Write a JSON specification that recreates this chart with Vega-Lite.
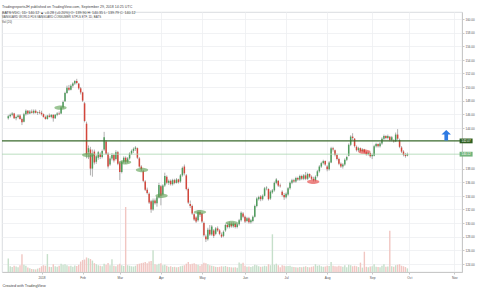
{
  "$schema": "https://vega.github.io/schema/vega-lite/v6.json",
  "width": 460,
  "height": 260,
  "autosize": {"type": "none"},
  "padding": {"left": 2, "top": 12, "right": 18, "bottom": 19},
  "background": "white",
  "config": {
    "font": "Liberation Sans",
    "view": {"stroke": "#cfd3d8", "strokeWidth": 0.8},
    "axis": {"labelOverlap": false, "labelFlush": false, "labelBound": false}
  },
  "title": {
    "text": ["TradingreportsJH published on TradingView.com, September 29, 2018 14:25 UTC", "BATS:VDC, 1D: 140.12 ▲ +0.28 (+0.20%) O: 139.90 H: 140.35 L: 139.79 C: 140.12"],
    "subtitle": ["VANGUARD WORLD FDS VANGUARD CONSUMER STPLS ETF, 1D, BATS", "Vol (20)"],
    "anchor": "start",
    "frame": "group",
    "offset": -12,
    "fontSize": 3.6,
    "fontWeight": "normal",
    "color": "#444444",
    "lineHeight": 6,
    "subtitleFontSize": 2.9,
    "subtitleColor": "#444444",
    "subtitleLineHeight": 5.5,
    "subtitlePadding": 1.5
  },
  "datasets": {
    "bars": [
      {"i":-17,"open":145.4,"high":145.9,"low":145.2,"close":145.7,"volume":260},
      {"i":-16,"open":145.7,"high":146.1,"low":145.5,"close":145.9,"volume":110},
      {"i":-15,"open":145.9,"high":146.3,"low":145.7,"close":146.1,"volume":95},
      {"i":-14,"open":146.1,"high":146.2,"low":145.3,"close":145.4,"volume":120},
      {"i":-13,"open":145.4,"high":145.8,"low":145.1,"close":145.6,"volume":105},
      {"i":-12,"open":145.6,"high":146.0,"low":145.4,"close":145.8,"volume":90},
      {"i":-11,"open":145.8,"high":146.0,"low":145.2,"close":145.3,"volume":130},
      {"i":-10,"open":145.3,"high":145.5,"low":144.4,"close":144.8,"volume":340},
      {"i":-9,"open":144.9,"high":146.2,"low":144.8,"close":146.0,"volume":140},
      {"i":-8,"open":146.0,"high":146.7,"low":145.8,"close":146.5,"volume":120},
      {"i":-7,"open":146.5,"high":146.6,"low":145.9,"close":146.1,"volume":85},
      {"i":-6,"open":146.1,"high":146.6,"low":146.0,"close":146.4,"volume":70},
      {"i":-5,"open":146.4,"high":146.7,"low":146.1,"close":146.2,"volume":60},
      {"i":-4,"open":146.2,"high":146.7,"low":146.0,"close":146.5,"volume":55},
      {"i":-3,"open":146.5,"high":146.7,"low":146.1,"close":146.2,"volume":50},
      {"i":-2,"open":146.2,"high":146.4,"low":145.9,"close":146.3,"volume":65},
      {"i":-1,"open":146.3,"high":146.6,"low":146.0,"close":146.2,"volume":80},
      {"i":0,"open":146.2,"high":146.5,"low":145.8,"close":146.0,"volume":110},
      {"i":1,"open":146.0,"high":146.1,"low":145.5,"close":145.6,"volume":130},
      {"i":2,"open":145.6,"high":145.8,"low":145.2,"close":145.3,"volume":120},
      {"i":3,"open":145.3,"high":145.9,"low":145.2,"close":145.8,"volume":345},
      {"i":4,"open":145.8,"high":146.1,"low":145.5,"close":145.6,"volume":100},
      {"i":5,"open":145.6,"high":146.0,"low":145.4,"close":145.9,"volume":95},
      {"i":6,"open":145.9,"high":146.0,"low":144.9,"close":145.4,"volume":150},
      {"i":7,"open":145.4,"high":146.0,"low":145.3,"close":145.9,"volume":110},
      {"i":8,"open":145.9,"high":146.3,"low":145.7,"close":146.1,"volume":100},
      {"i":9,"open":146.1,"high":146.4,"low":145.9,"close":146.0,"volume":120},
      {"i":10,"open":146.1,"high":147.2,"low":146.0,"close":147.0,"volume":160},
      {"i":11,"open":147.0,"high":148.0,"low":146.8,"close":147.8,"volume":140},
      {"i":12,"open":147.9,"high":149.3,"low":147.8,"close":149.1,"volume":150},
      {"i":13,"open":149.1,"high":150.2,"low":149.0,"close":149.9,"volume":130},
      {"i":14,"open":149.9,"high":150.3,"low":149.4,"close":149.6,"volume":110},
      {"i":15,"open":149.6,"high":150.4,"low":149.5,"close":150.2,"volume":120},
      {"i":16,"open":150.2,"high":150.7,"low":149.9,"close":150.5,"volume":100},
      {"i":17,"open":150.5,"high":151.0,"low":150.3,"close":150.9,"volume":125},
      {"i":18,"open":150.9,"high":151.2,"low":150.4,"close":150.6,"volume":115},
      {"i":19,"open":150.5,"high":150.6,"low":149.6,"close":149.8,"volume":140},
      {"i":20,"open":149.8,"high":150.0,"low":148.9,"close":149.2,"volume":200},
      {"i":21,"open":149.2,"high":149.3,"low":147.8,"close":148.0,"volume":230},
      {"i":22,"open":147.6,"high":147.8,"low":144.8,"close":145.0,"volume":240},
      {"i":23,"open":144.6,"high":144.9,"low":139.5,"close":140.0,"volume":280},
      {"i":24,"open":140.4,"high":141.4,"low":139.4,"close":141.0,"volume":265},
      {"i":25,"open":140.8,"high":141.2,"low":137.0,"close":138.0,"volume":250},
      {"i":26,"open":138.0,"high":140.8,"low":136.8,"close":140.2,"volume":220},
      {"i":27,"open":140.5,"high":140.8,"low":138.6,"close":138.9,"volume":170},
      {"i":28,"open":139.0,"high":140.0,"low":138.7,"close":139.8,"volume":150},
      {"i":29,"open":139.6,"high":140.6,"low":139.3,"close":140.4,"volume":130},
      {"i":30,"open":140.2,"high":140.4,"low":139.4,"close":139.7,"volume":120},
      {"i":31,"open":139.7,"high":140.8,"low":139.5,"close":140.6,"volume":110},
      {"i":32,"open":140.8,"high":143.4,"low":140.6,"close":142.6,"volume":160},
      {"i":33,"open":142.0,"high":142.2,"low":140.0,"close":140.2,"volume":140},
      {"i":34,"open":140.2,"high":140.4,"low":138.0,"close":138.3,"volume":175},
      {"i":35,"open":138.6,"high":139.8,"low":138.4,"close":139.5,"volume":130},
      {"i":36,"open":139.5,"high":140.3,"low":139.2,"close":140.0,"volume":245},
      {"i":37,"open":140.0,"high":140.2,"low":138.9,"close":139.2,"volume":120},
      {"i":38,"open":139.4,"high":140.7,"low":139.2,"close":140.4,"volume":110},
      {"i":39,"open":140.4,"high":140.6,"low":138.5,"close":138.7,"volume":140},
      {"i":40,"open":138.8,"high":139.0,"low":136.3,"close":137.5,"volume":160},
      {"i":41,"open":137.5,"high":139.2,"low":137.3,"close":139.0,"volume":130},
      {"i":42,"open":139.0,"high":139.8,"low":138.8,"close":139.6,"volume":115},
      {"i":43,"open":139.6,"high":139.8,"low":138.7,"close":139.0,"volume":1250},
      {"i":44,"open":139.0,"high":139.7,"low":138.8,"close":139.5,"volume":130},
      {"i":45,"open":139.5,"high":140.4,"low":139.3,"close":140.2,"volume":120},
      {"i":46,"open":140.2,"high":140.8,"low":140.0,"close":140.6,"volume":110},
      {"i":47,"open":140.6,"high":141.1,"low":140.3,"close":140.9,"volume":105},
      {"i":48,"open":140.9,"high":141.3,"low":140.6,"close":141.1,"volume":120},
      {"i":49,"open":141.0,"high":141.1,"low":139.4,"close":139.6,"volume":150},
      {"i":50,"open":139.5,"high":139.7,"low":138.1,"close":138.3,"volume":160},
      {"i":51,"open":138.3,"high":138.5,"low":137.6,"close":137.9,"volume":170},
      {"i":52,"open":137.6,"high":137.8,"low":136.0,"close":136.2,"volume":180},
      {"i":53,"open":136.1,"high":136.3,"low":134.7,"close":134.9,"volume":190},
      {"i":54,"open":134.9,"high":135.2,"low":134.2,"close":134.4,"volume":170},
      {"i":55,"open":134.3,"high":134.5,"low":132.8,"close":133.0,"volume":200},
      {"i":56,"open":133.2,"high":133.4,"low":131.5,"close":132.0,"volume":210},
      {"i":57,"open":132.0,"high":133.6,"low":131.8,"close":133.3,"volume":420},
      {"i":58,"open":133.3,"high":133.6,"low":132.7,"close":132.9,"volume":150},
      {"i":59,"open":132.9,"high":134.0,"low":132.4,"close":133.8,"volume":140},
      {"i":60,"open":133.8,"high":135.9,"low":133.6,"close":135.6,"volume":160},
      {"i":61,"open":135.4,"high":135.6,"low":132.6,"close":134.0,"volume":170},
      {"i":62,"open":134.2,"high":135.7,"low":134.0,"close":135.5,"volume":130},
      {"i":63,"open":135.5,"high":137.4,"low":135.3,"close":136.9,"volume":140},
      {"i":64,"open":136.8,"high":137.0,"low":135.7,"close":135.9,"volume":120},
      {"i":65,"open":135.9,"high":136.4,"low":135.6,"close":136.2,"volume":100},
      {"i":66,"open":136.2,"high":136.4,"low":135.5,"close":135.7,"volume":110},
      {"i":67,"open":135.7,"high":136.5,"low":135.5,"close":136.3,"volume":95},
      {"i":68,"open":136.3,"high":136.5,"low":135.7,"close":135.9,"volume":100},
      {"i":69,"open":135.9,"high":136.6,"low":135.8,"close":136.4,"volume":90},
      {"i":70,"open":136.4,"high":136.5,"low":135.8,"close":136.0,"volume":95},
      {"i":71,"open":136.1,"high":137.2,"low":135.9,"close":137.0,"volume":110},
      {"i":72,"open":137.0,"high":138.3,"low":136.8,"close":138.1,"volume":120},
      {"i":73,"open":138.3,"high":138.6,"low":137.0,"close":137.3,"volume":130},
      {"i":74,"open":137.0,"high":137.2,"low":134.8,"close":135.0,"volume":160},
      {"i":75,"open":135.0,"high":135.2,"low":132.8,"close":133.0,"volume":190},
      {"i":76,"open":132.8,"high":133.3,"low":132.2,"close":132.5,"volume":150},
      {"i":77,"open":132.5,"high":132.7,"low":131.2,"close":131.4,"volume":160},
      {"i":78,"open":131.3,"high":131.5,"low":130.3,"close":130.5,"volume":170},
      {"i":79,"open":130.8,"high":131.0,"low":130.0,"close":130.2,"volume":150},
      {"i":80,"open":130.4,"high":131.9,"low":130.2,"close":131.6,"volume":140},
      {"i":81,"open":131.6,"high":131.9,"low":130.9,"close":131.2,"volume":120},
      {"i":82,"open":131.4,"high":131.5,"low":130.0,"close":130.2,"volume":150},
      {"i":83,"open":130.0,"high":130.2,"low":128.0,"close":128.2,"volume":180},
      {"i":84,"open":128.0,"high":128.3,"low":127.2,"close":127.6,"volume":170},
      {"i":85,"open":127.6,"high":129.3,"low":127.4,"close":129.0,"volume":150},
      {"i":86,"open":129.0,"high":129.7,"low":128.1,"close":128.3,"volume":130},
      {"i":87,"open":128.3,"high":129.7,"low":128.1,"close":129.5,"volume":120},
      {"i":88,"open":128.9,"high":129.1,"low":127.8,"close":128.1,"volume":110},
      {"i":89,"open":128.4,"high":129.4,"low":128.2,"close":129.2,"volume":100},
      {"i":90,"open":129.2,"high":129.5,"low":128.7,"close":128.9,"volume":95},
      {"i":91,"open":128.9,"high":129.1,"low":128.2,"close":128.4,"volume":100},
      {"i":92,"open":128.3,"high":128.6,"low":127.8,"close":128.0,"volume":110},
      {"i":93,"open":128.1,"high":128.9,"low":127.9,"close":128.7,"volume":105},
      {"i":94,"open":128.9,"high":129.9,"low":128.7,"close":129.7,"volume":115},
      {"i":95,"open":129.7,"high":130.0,"low":129.2,"close":129.4,"volume":100},
      {"i":96,"open":129.4,"high":130.2,"low":129.2,"close":129.9,"volume":95},
      {"i":97,"open":129.9,"high":130.1,"low":129.3,"close":129.5,"volume":90},
      {"i":98,"open":129.5,"high":130.1,"low":129.3,"close":129.9,"volume":85},
      {"i":99,"open":129.9,"high":130.0,"low":129.2,"close":129.4,"volume":90},
      {"i":100,"open":129.4,"high":130.0,"low":129.2,"close":129.8,"volume":80},
      {"i":101,"open":129.8,"high":130.6,"low":129.6,"close":130.4,"volume":185},
      {"i":102,"open":130.4,"high":131.7,"low":130.2,"close":131.5,"volume":160},
      {"i":103,"open":131.4,"high":131.6,"low":130.7,"close":130.9,"volume":180},
      {"i":104,"open":130.9,"high":131.1,"low":130.0,"close":130.2,"volume":120},
      {"i":105,"open":130.3,"high":130.9,"low":130.1,"close":130.7,"volume":100},
      {"i":106,"open":130.7,"high":130.9,"low":129.9,"close":130.1,"volume":105},
      {"i":107,"open":130.1,"high":130.6,"low":129.9,"close":130.4,"volume":95},
      {"i":108,"open":130.3,"high":131.1,"low":130.1,"close":130.9,"volume":110},
      {"i":109,"open":130.9,"high":132.7,"low":130.8,"close":132.5,"volume":140},
      {"i":110,"open":132.5,"high":133.8,"low":132.3,"close":133.6,"volume":130},
      {"i":111,"open":133.5,"high":134.0,"low":133.3,"close":133.8,"volume":110},
      {"i":112,"open":133.9,"high":134.1,"low":133.2,"close":133.5,"volume":100},
      {"i":113,"open":133.5,"high":134.2,"low":133.3,"close":134.0,"volume":105},
      {"i":114,"open":134.0,"high":135.3,"low":133.9,"close":135.1,"volume":120},
      {"i":115,"open":135.1,"high":135.4,"low":134.8,"close":135.2,"volume":110},
      {"i":116,"open":135.0,"high":135.1,"low":133.3,"close":133.5,"volume":150},
      {"i":117,"open":133.6,"high":134.8,"low":133.4,"close":134.6,"volume":130},
      {"i":118,"open":134.5,"high":135.0,"low":134.3,"close":134.8,"volume":725},
      {"i":119,"open":134.8,"high":136.1,"low":134.6,"close":135.9,"volume":140},
      {"i":120,"open":135.9,"high":136.6,"low":135.7,"close":136.4,"volume":160},
      {"i":121,"open":136.2,"high":136.3,"low":135.3,"close":135.5,"volume":130},
      {"i":122,"open":135.5,"high":135.8,"low":135.2,"close":135.4,"volume":90},
      {"i":123,"open":134.6,"high":134.8,"low":133.9,"close":134.1,"volume":130},
      {"i":124,"open":134.1,"high":134.4,"low":133.4,"close":133.8,"volume":120},
      {"i":125,"open":133.8,"high":134.5,"low":133.6,"close":134.3,"volume":110},
      {"i":126,"open":134.2,"high":135.3,"low":134.0,"close":135.1,"volume":115},
      {"i":127,"open":135.1,"high":136.1,"low":134.9,"close":135.9,"volume":120},
      {"i":128,"open":135.9,"high":136.5,"low":135.7,"close":136.3,"volume":100},
      {"i":129,"open":136.3,"high":136.5,"low":135.9,"close":136.1,"volume":95},
      {"i":130,"open":136.1,"high":136.8,"low":135.9,"close":136.6,"volume":90},
      {"i":131,"open":136.6,"high":136.8,"low":136.2,"close":136.4,"volume":85},
      {"i":132,"open":136.4,"high":137.1,"low":136.2,"close":136.9,"volume":95},
      {"i":133,"open":136.9,"high":137.1,"low":136.3,"close":136.5,"volume":90},
      {"i":134,"open":136.5,"high":137.2,"low":136.3,"close":137.0,"volume":100},
      {"i":135,"open":137.0,"high":137.5,"low":136.3,"close":136.5,"volume":110},
      {"i":136,"open":136.5,"high":137.4,"low":136.3,"close":137.2,"volume":95},
      {"i":137,"open":137.2,"high":137.3,"low":136.6,"close":136.8,"volume":90},
      {"i":138,"open":136.8,"high":137.0,"low":136.3,"close":136.5,"volume":100},
      {"i":139,"open":136.5,"high":136.8,"low":136.1,"close":136.3,"volume":110},
      {"i":140,"open":136.3,"high":137.0,"low":136.1,"close":136.8,"volume":150},
      {"i":141,"open":136.9,"high":137.8,"low":136.7,"close":137.6,"volume":120},
      {"i":142,"open":137.6,"high":138.5,"low":137.4,"close":138.3,"volume":130},
      {"i":143,"open":138.3,"high":139.0,"low":138.1,"close":138.8,"volume":110},
      {"i":144,"open":138.8,"high":139.3,"low":138.6,"close":139.1,"volume":100},
      {"i":145,"open":139.1,"high":139.2,"low":138.4,"close":138.6,"volume":105},
      {"i":146,"open":138.3,"high":138.5,"low":137.6,"close":137.9,"volume":120},
      {"i":147,"open":137.9,"high":139.1,"low":137.7,"close":138.9,"volume":115},
      {"i":148,"open":138.9,"high":141.2,"low":138.8,"close":141.0,"volume":190},
      {"i":149,"open":141.0,"high":141.2,"low":140.5,"close":140.8,"volume":120},
      {"i":150,"open":140.7,"high":140.8,"low":139.8,"close":140.0,"volume":110},
      {"i":151,"open":140.0,"high":140.2,"low":139.2,"close":139.4,"volume":105},
      {"i":152,"open":139.4,"high":139.6,"low":138.5,"close":138.7,"volume":120},
      {"i":153,"open":138.7,"high":138.9,"low":138.1,"close":138.3,"volume":110},
      {"i":154,"open":138.3,"high":138.8,"low":138.0,"close":138.6,"volume":100},
      {"i":155,"open":138.6,"high":139.5,"low":138.4,"close":139.3,"volume":130},
      {"i":156,"open":139.3,"high":139.9,"low":139.1,"close":139.7,"volume":90},
      {"i":157,"open":139.9,"high":141.7,"low":139.8,"close":141.5,"volume":140},
      {"i":158,"open":141.5,"high":142.9,"low":141.3,"close":142.7,"volume":130},
      {"i":159,"open":142.7,"high":143.2,"low":142.2,"close":142.5,"volume":110},
      {"i":160,"open":142.4,"high":142.5,"low":141.1,"close":141.3,"volume":120},
      {"i":161,"open":141.2,"high":141.4,"low":140.5,"close":140.7,"volume":110},
      {"i":162,"open":140.7,"high":141.2,"low":140.5,"close":141.0,"volume":95},
      {"i":163,"open":141.0,"high":141.1,"low":140.4,"close":140.6,"volume":180},
      {"i":164,"open":140.6,"high":141.0,"low":140.4,"close":140.8,"volume":85},
      {"i":165,"open":140.8,"high":140.9,"low":140.2,"close":140.4,"volume":390},
      {"i":166,"open":140.4,"high":140.6,"low":139.9,"close":140.1,"volume":100},
      {"i":167,"open":140.1,"high":140.5,"low":139.9,"close":140.3,"volume":90},
      {"i":168,"open":140.3,"high":140.4,"low":139.6,"close":139.8,"volume":105},
      {"i":169,"open":139.8,"high":140.2,"low":139.4,"close":140.0,"volume":110},
      {"i":170,"open":139.9,"high":141.5,"low":139.8,"close":141.3,"volume":150},
      {"i":171,"open":141.3,"high":141.8,"low":141.1,"close":141.6,"volume":100},
      {"i":172,"open":141.6,"high":141.7,"low":141.1,"close":141.3,"volume":95},
      {"i":173,"open":141.3,"high":141.9,"low":141.1,"close":141.7,"volume":90},
      {"i":174,"open":141.7,"high":142.6,"low":141.5,"close":142.4,"volume":120},
      {"i":175,"open":142.4,"high":143.0,"low":142.2,"close":142.8,"volume":150},
      {"i":176,"open":142.8,"high":142.9,"low":142.3,"close":142.5,"volume":100},
      {"i":177,"open":142.5,"high":143.0,"low":142.3,"close":142.8,"volume":105},
      {"i":178,"open":142.7,"high":142.8,"low":142.0,"close":142.2,"volume":795},
      {"i":179,"open":142.2,"high":142.8,"low":142.0,"close":142.6,"volume":110},
      {"i":180,"open":142.1,"high":142.3,"low":141.8,"close":142.0,"volume":100},
      {"i":181,"open":142.0,"high":143.3,"low":141.9,"close":143.0,"volume":130},
      {"i":182,"open":143.0,"high":143.8,"low":142.2,"close":142.4,"volume":140},
      {"i":183,"open":142.2,"high":142.4,"low":141.0,"close":141.2,"volume":150},
      {"i":184,"open":141.1,"high":141.3,"low":140.3,"close":140.5,"volume":120},
      {"i":185,"open":140.5,"high":140.7,"low":139.8,"close":140.0,"volume":110},
      {"i":186,"open":140.0,"high":140.3,"low":139.6,"close":139.84,"volume":95},
      {"i":187,"open":139.9,"high":140.35,"low":139.79,"close":140.12,"volume":70}
    ],
    "notes": [
      {"i":9.7,"price":146.96,"kind":"green"},
      {"i":23.85,"price":140.0,"kind":"green"},
      {"i":42.7,"price":138.93,"kind":"green"},
      {"i":51.35,"price":137.8,"kind":"green"},
      {"i":61.35,"price":134.0,"kind":"green"},
      {"i":81,"price":131.6,"kind":"green"},
      {"i":97.2,"price":130.0,"kind":"green"},
      {"i":138.85,"price":136.07,"kind":"red"},
      {"i":165,"price":140.49,"kind":"red"}
    ]
  },
  "layer": [
    {
      "data": {"name": "bars"},
      "mark": {"type": "bar", "size": 1.4},
      "encoding": {
        "x": {"field": "i", "type": "quantitative", "scale": {"domain": [-17.65, 212.35], "nice": false, "zero": false}},
        "y": {"field": "volume", "type": "quantitative", "scale": {"domain": [0, 5000], "nice": false}, "axis": null},
        "color": {"condition": {"test": "datum.close >= datum.open", "value": "#c6dfca"}, "value": "#f1c6c2"}
      }
    },
    {
      "layer": [
        {
          "data": {"name": "bars"},
          "mark": {"type": "rule", "strokeWidth": 0.7, "color": "#8f8f8f"},
          "encoding": {
            "x": {
              "field": "i", "type": "quantitative",
              "scale": {"domain": [-17.65, 212.35], "nice": false, "zero": false},
              "axis": {
                "values": [0, 21, 40, 61, 82, 104, 125, 146, 169, 188, 211],
                "tickCount": 30,
                "labelExpr": "['2018','Feb','Mar','Apr','May','Jun','Jul','Aug','Sep','Oct','Nov'][indexof([0,21,40,61,82,104,125,146,169,188,211], datum.value)]",
                "labelFontSize": 3.2, "labelColor": "#555555", "labelPadding": 1,
                "labelOverlap": false,
                "tickSize": 2, "tickColor": "#c8c8c8", "domainColor": "#c8c8c8",
                "grid": true, "gridColor": "#eeeff1", "gridWidth": 0.8,
                "title": "Created with TradingView", "titleAnchor": "start",
                "titleFontSize": 3.8, "titleFontWeight": "normal", "titleColor": "#444444",
                "titlePadding": 5
              }
            },
            "y": {
              "field": "low", "type": "quantitative",
              "scale": {"domain": [122.79, 161.03], "nice": false, "zero": false},
              "axis": {
                "orient": "right",
                "values": [124, 126, 128, 130, 132, 134, 136, 138, 144, 146, 148, 150, 152, 154, 156, 158, 160],
                "tickCount": 30,
                "format": ".2f",
                "labelFontSize": 3, "labelColor": "#555555", "labelPadding": 1,
                "labelOverlap": false,
                "tickSize": 2, "tickColor": "#c8c8c8", "domainColor": "#c8c8c8",
                "grid": true, "gridColor": "#eeeff1", "gridWidth": 0.8,
                "title": null
              }
            },
            "y2": {"field": "high"}
          }
        },
        {
          "data": {"name": "bars"},
          "mark": {"type": "bar", "size": 1.5},
          "encoding": {
            "x": {"field": "i", "type": "quantitative"},
            "y": {"field": "open", "type": "quantitative"},
            "y2": {"field": "close"},
            "color": {"condition": {"test": "datum.close >= datum.open", "value": "#4f9d5d"}, "value": "#d3463b"}
          }
        },
        {
          "data": {"values": [{"level": 140.12}]},
          "mark": {"type": "rule", "color": "#a9d6b0", "strokeWidth": 0.8},
          "encoding": {"y": {"field": "level", "type": "quantitative"}}
        },
        {
          "data": {"values": [{"level": 142.07}]},
          "mark": {"type": "rule", "color": "#3a6a2c", "strokeWidth": 1.3},
          "encoding": {"y": {"field": "level", "type": "quantitative"}}
        },
        {
          "data": {"name": "notes"},
          "mark": {"type": "point", "filled": true, "shape": "M -1 0 A 1 0.36 0 1 0 1 0 A 1 0.36 0 1 0 -1 0 Z", "size": 150, "opacity": 0.6, "strokeWidth": 0.4},
          "encoding": {
            "x": {"field": "i", "type": "quantitative"},
            "y": {"field": "price", "type": "quantitative"},
            "color": {"field": "kind", "type": "nominal", "scale": {"domain": ["green", "red"], "range": ["#5a9e4f", "#e53935"]}, "legend": null}
          }
        },
        {
          "data": {"values": [{"i": 206.85, "price": 142.9}]},
          "mark": {"type": "point", "filled": true, "opacity": 1, "color": "#2f7be3", "shape": "M 0 -1 L 0.9 -0.15 L 0.35 -0.15 L 0.35 1 L -0.35 1 L -0.35 -0.15 L -0.9 -0.15 Z", "size": 110},
          "encoding": {
            "x": {"field": "i", "type": "quantitative"},
            "y": {"field": "price", "type": "quantitative"}
          }
        },
        {
          "data": {"values": [{"level": 142.07}]},
          "mark": {"type": "point", "filled": true, "opacity": 1, "color": "#2f5f22", "shape": "M -1 -0.37 L 1 -0.37 L 1 0.37 L -1 0.37 Z", "size": 169},
          "encoding": {
            "x": {"datum": 217.0, "type": "quantitative"},
            "y": {"field": "level", "type": "quantitative"}
          }
        },
        {
          "data": {"values": [{"level": 140.12}]},
          "mark": {"type": "point", "filled": true, "opacity": 1, "color": "#72b47c", "shape": "M -1 -0.37 L 1 -0.37 L 1 0.37 L -1 0.37 Z", "size": 169},
          "encoding": {
            "x": {"datum": 217.0, "type": "quantitative"},
            "y": {"field": "level", "type": "quantitative"}
          }
        },
        {
          "data": {"values": [{"level": 142.07, "label": "142.07"}, {"level": 140.12, "label": "140.12"}]},
          "mark": {"type": "text", "color": "white", "fontSize": 3, "align": "center", "baseline": "middle"},
          "encoding": {
            "x": {"datum": 217.0, "type": "quantitative"},
            "y": {"field": "level", "type": "quantitative"},
            "text": {"field": "label"}
          }
        }
      ]
    }
  ],
  "resolve": {"scale": {"y": "independent"}}
}
